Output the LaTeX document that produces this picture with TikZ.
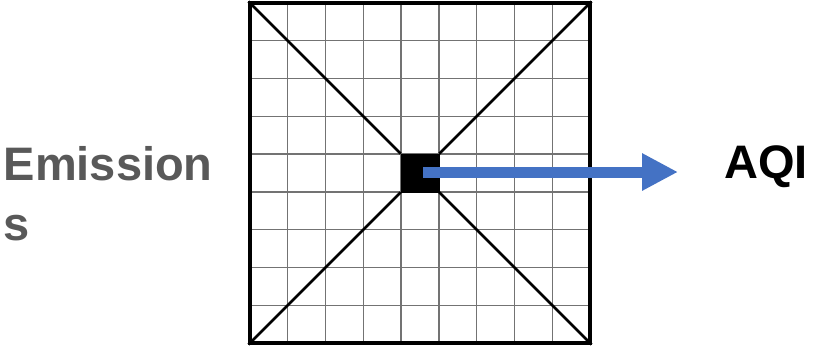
\documentclass[tikz,border=0pt]{standalone}
\usepackage{fontspec}
\setmainfont{Liberation Sans}
\usetikzlibrary{arrows.meta}
\definecolor{txtgray}{HTML}{595959}
\definecolor{arrblue}{HTML}{4472C4}
\begin{document}
\begin{tikzpicture}[x=1pt,y=-1pt,
  gridline/.style={draw=black!55,line width=1.4pt},
  frame/.style={draw=black,line width=3.2pt},
  diag/.style={draw=black,line width=2.6pt},
  label/.style={font=\fontsize{47}{60}\selectfont\bfseries,inner sep=0pt},
  flow/.style={draw=arrblue,line width=11pt,-{Triangle[length=36pt,width=35pt]}}]
\useasboundingbox (0,0) rectangle (813,346);
% grid
\foreach \k in {1,...,8}{
  \draw[gridline] ({250+\k*340/9},3) -- ({250+\k*340/9},343);
  \draw[gridline] (250,{3+\k*340/9}) -- (590,{3+\k*340/9});
}
\node[frame,minimum width=340pt,minimum height=340pt,inner sep=0pt] (box) at (420,173) {};
\node[fill=black,draw=black,line width=0.8pt,minimum width=37.8pt,minimum height=37.8pt,inner sep=0pt] (cell) at (420,173) {};
\draw[diag] (box.north west) -- (cell.north west);
\draw[diag] (box.north east) -- (cell.north east);
\draw[diag] (box.south west) -- (cell.south west);
\draw[diag] (box.south east) -- (cell.south east);
\node[frame,minimum width=340pt,minimum height=340pt,inner sep=0pt] at (420,173) {};
\coordinate (tip) at (678,172);
\coordinate (start) at (423,172);
\draw[flow] (start) -- (tip);
\node[label,text=txtgray,align=left,anchor=north west] (emis) at (3.5,146.5) {Emission\\s};
\node[label,text=black,anchor=base west] (aqi) at (724,178) {AQI};
\end{tikzpicture}
\end{document}
